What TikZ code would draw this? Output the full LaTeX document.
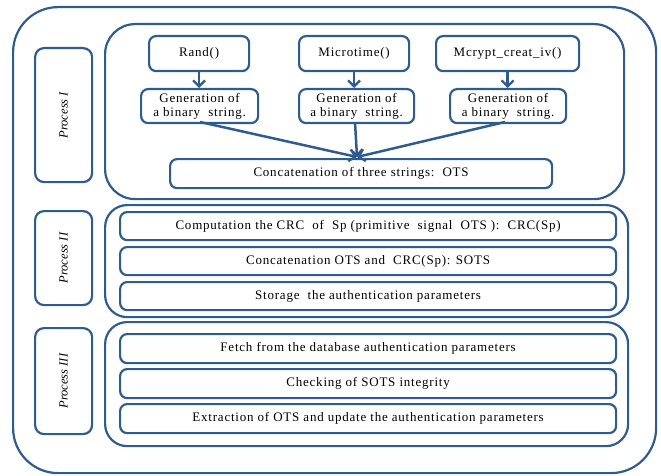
\documentclass[tikz,border=0pt]{standalone}
\usepackage{fontspec}
\setmainfont{Liberation Serif}
\newfontfamily\spaced[LetterSpace=6]{Liberation Serif}
\usetikzlibrary{arrows.meta}
\definecolor{lineblue}{HTML}{2F5C8E}
\tikzset{
  frame/.style={draw=lineblue, line width=2.2pt, rounded corners=#1, anchor=north west, inner sep=0pt},
  frame/.default=7pt,
  lbl/.style={font=\spaced\fontsize{13}{15}\selectfont, align=center},
  plabel/.style={font=\fontsize{12.5}{14}\selectfont\itshape, rotate=90},
  arr/.style={draw=lineblue, line width=2.5pt, -{Straight Barb[length=6pt,width=12pt,line width=2.3pt]}}
}
\newcommand{\bx}[6]{% name, x1, y1, x2, y2, radius
  \node[frame=#6, minimum width=#4pt-#2pt, minimum height=#5pt-#3pt] (#1) at (#2,#3) {};}
\begin{document}
\begin{tikzpicture}[x=1pt,y=-1pt]
\useasboundingbox (0,0) rectangle (661,476);
% outer
\bx{outer}{12}{6}{655}{472}{45pt}
% process labels
\bx{pI}{34}{47}{91}{181}{9pt}
\bx{pII}{34}{210}{91}{304}{9pt}
\bx{pIII}{34}{327}{91}{433}{9pt}
\node[plabel] at (pI.center) {Process I};
\node[plabel] at (pII.center) {Process II};
\node[plabel] at (pIII.center) {Process III};
% process containers
\bx{cI}{104}{23}{623}{198}{30pt}
\bx{cII}{104}{204}{627}{316}{22pt}
\bx{cIII}{104}{321}{627}{445}{22pt}
% process I
\bx{rand}{148}{35}{248}{70}{7pt}
\bx{micro}{298}{35}{408}{70}{7pt}
\bx{mcrypt}{435}{35}{578}{70}{7pt}
\node[lbl] at (rand.center) {Rand()};
\node[lbl] at (micro.center) {Microtime()};
\node[lbl] at (mcrypt.center) {Mcrypt\_creat\_iv()};
\bx{g1}{140}{88}{257}{122}{7pt}
\bx{g2}{298}{88}{413}{122}{7pt}
\bx{g3}{449}{88}{565}{122}{7pt}
\foreach \g in {g1,g2,g3}{\node[lbl, font=\spaced\fontsize{13}{13.5}\selectfont] at (\g.center) {Generation of\\a binary\ \ string.};}
\bx{conc}{169}{158}{551}{187}{7pt}
\node[lbl] at (conc.center) {Concatenation of three strings:\ \ OTS};
\draw[arr] (rand.south) -- (rand.south |- g1.north);
\draw[arr] (micro.south) -- (micro.south |- g2.north);
\draw[arr] (mcrypt.south) -- (mcrypt.south |- g3.north);
\coordinate (m) at (357,157);
\draw[arr] (200,122) -- (m);
\draw[arr] (355,122) -- (m);
\draw[arr] (505,122) -- (m);
% process II
\bx{a1}{119}{211}{615}{239}{7pt}
\bx{a2}{119}{246}{615}{274}{7pt}
\bx{a3}{119}{281}{615}{309}{7pt}
\node[lbl] at (a1.center) {Computation the CRC\ \ of\ \ Sp (primitive\ \ signal\ \ OTS ):\ \ CRC(Sp)};
\node[lbl] at (a2.center) {Concatenation OTS and\ \ CRC(Sp): SOTS};
\node[lbl] at (a3.center) {Storage\ \ the authentication parameters};
% process III
\bx{b1}{119}{333}{615}{362}{7pt}
\bx{b2}{119}{368}{615}{397}{7pt}
\bx{b3}{119}{403}{615}{432}{7pt}
\node[lbl] at (b1.center) {Fetch from the database authentication parameters};
\node[lbl] at (b2.center) {Checking of SOTS integrity};
\node[lbl] at (b3.center) {Extraction of OTS and update the authentication parameters};
\end{tikzpicture}
\end{document}
